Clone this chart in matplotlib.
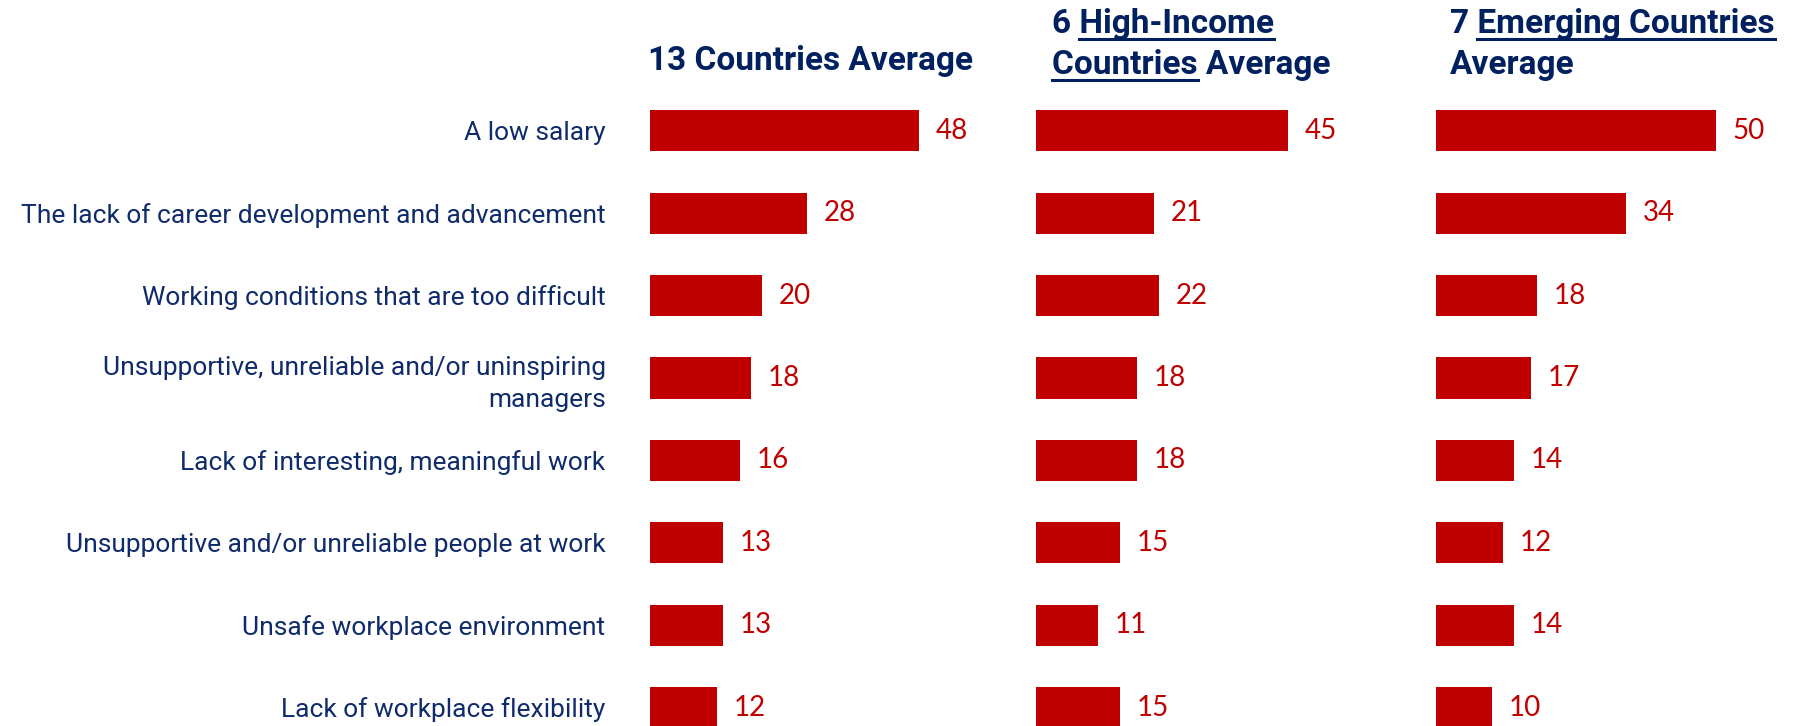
import matplotlib.pyplot as plt
from matplotlib.lines import Line2D

categories = [
    "A low salary",
    "The lack of career development and advancement",
    "Working conditions that are too difficult",
    "Unsupportive, unreliable and/or uninspiring\nmanagers",
    "Lack of interesting, meaningful work",
    "Unsupportive and/or unreliable people at work",
    "Unsafe workplace environment",
    "Lack of workplace flexibility",
]
avg_13 = [48, 28, 20, 18, 16, 13, 13, 12]
avg_high = [45, 21, 22, 18, 18, 15, 11, 15]
avg_emerging = [50, 34, 18, 17, 14, 12, 14, 10]

# title lines: list of (text, underlined) pieces per line
titles = [
    [[("13 Countries Average", False)]],
    [[("6 ", False), ("High-Income", True)],
     [("Countries", True), (" Average", False)]],
    [[("7 ", False), ("Emerging Countries", True)],
     [("Average", False)]],
]

NAVY = "#002060"
LABEL = "#0f2b6b"
RED = "#c00000"
W, H = 1801, 726

fig = plt.figure(figsize=(W / 100, H / 100), dpi=100)

# axes placement in pixels (left edge of bars)
lefts = [650, 1036, 1436]
row = 82.4
top_px = 130.7 - row / 2
ax_h = row * 8
ax_w = 5.6 * 56

series = [avg_13, avg_high, avg_emerging]
for i, (lx, vals) in enumerate(zip(lefts, series)):
    ax = fig.add_axes([lx / W, (H - top_px - ax_h) / H, ax_w / W, ax_h / H])
    y = range(len(categories))
    ax.barh(y, vals, height=0.5, color=RED)
    ax.set_xlim(0, 56)
    ax.set_ylim(7.5, -0.5)
    for yi, v in zip(y, vals):
        ax.annotate(str(v), (v, yi), xytext=(12, 0), textcoords="offset points",
                    ha="left", va="center", color=RED, fontsize=20, family="Lato")
    for s in ax.spines.values():
        s.set_visible(False)
    ax.set_xticks([])
    if i == 0:
        ax.set_yticks(list(y))
        ax.set_yticklabels(categories, fontsize=19, color=LABEL, family="Roboto",
                           linespacing=1.4)
        ax.tick_params(axis="y", length=0, pad=32)
    else:
        ax.set_yticks([])

# titles with underlined parts
renderer = fig.canvas.get_renderer()
title_x = [648, 1052, 1450]
title_size = 24


def text_width(s):
    t = fig.text(0, 0, s, fontsize=title_size, fontweight="bold", family="Roboto")
    w = t.get_window_extent(renderer).width
    t.remove()
    return w


for tx, lines in zip(title_x, titles):
    baselines = [70] if len(lines) == 1 else [33, 74]
    for parts, by in zip(lines, baselines):
        full = "".join(p for p, _ in parts)
        fig.text(tx / W, 1 - by / H, full, fontsize=title_size, fontweight="bold",
                 family="Roboto", color=NAVY, va="baseline", ha="left")
        w_full = text_width(full)
        for k, (p, ul) in enumerate(parts):
            prefix = "".join(q for q, _ in parts[:k + 1])
            if ul:
                x0 = tx + w_full - text_width(full[len(prefix) - len(p):]) if k > 0 else tx
                x1 = tx + text_width(prefix.rstrip()) if k < len(parts) - 1 else tx + w_full
                fig.add_artist(Line2D([x0 / W, x1 / W], [1 - (by + 5.5) / H] * 2,
                                      color=NAVY, lw=2.2, transform=fig.transFigure))

fig.savefig("out.png", dpi=100)
